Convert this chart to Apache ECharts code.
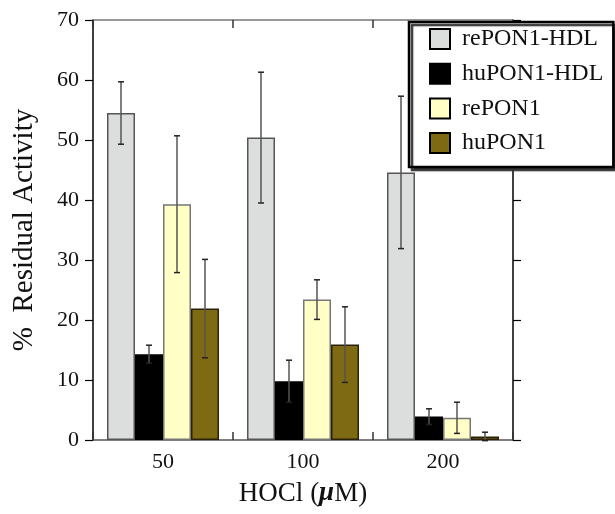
<!DOCTYPE html>
<html>
<head>
<meta charset="utf-8">
<script src="https://cdn.jsdelivr.net/npm/echarts@6/dist/echarts.min.js"></script>
<style>
  html, body { margin: 0; padding: 0; background: #fff; }
  #chart { width: 615px; height: 514px; }
</style>
</head>
<body>
<div id="chart"></div>
<script>
  // 数据
  var categories = ['50', '100', '200'];
  var seriesNames = ['rePON1-HDL', 'huPON1-HDL', 'rePON1', 'huPON1'];
  var rePON1HDL = [54.5, 50.4, 44.6];
  var rePON1HDLErr = [5.2, 10.9, 12.7];
  var huPON1HDL = [14.3, 9.8, 3.9];
  var huPON1HDLErr = [1.5, 3.5, 1.3];
  var rePON1 = [39.3, 23.4, 3.7];
  var rePON1Err = [11.4, 3.3, 2.6];
  var huPON1 = [21.9, 15.9, 0.6];
  var huPON1Err = [8.2, 6.3, 0.7];

  var fills = ['#dcdedd', '#000000', '#ffffc6', '#7f6a14'];
  var borders = ['#555555', '#000000', '#777777', '#2a2208'];
  var values = [rePON1HDL, huPON1HDL, rePON1, huPON1];
  var errors = [rePON1HDLErr, huPON1HDLErr, rePON1Err, huPON1Err];
  var offsets = [-0.3, -0.1, 0.1, 0.3];

  var font = '"Liberation Serif", "DejaVu Serif", serif';

  var series = [];
  for (var i = 0; i < 4; i++) {
    series.push({
      name: seriesNames[i],
      type: 'bar',
      data: values[i],
      barGap: '0%',
      barCategoryGap: '20%',
      itemStyle: { color: fills[i], borderColor: borders[i], borderWidth: 1.5 }
    });
  }
  // 误差线
  for (var k = 0; k < 4; k++) {
    (function (idx) {
      var data = values[idx].map(function (v, j) { return [j, v - errors[idx][j], v + errors[idx][j]]; });
      series.push({
        type: 'custom',
        z: 5,
        data: data,
        renderItem: function (params, api) {
          var band = api.size([1, 0])[0];
          var lo = api.coord([api.value(0), api.value(1)]);
          var hi = api.coord([api.value(0), api.value(2)]);
          var x = lo[0] + band * offsets[idx];
          var cap = 3;
          var capStyle = { stroke: '#222', lineWidth: 1.5 };
          return {
            type: 'group',
            children: [
              { type: 'line', shape: { x1: x, y1: lo[1], x2: x, y2: hi[1] }, style: { stroke: '#555', lineWidth: 1.5 } },
              { type: 'line', shape: { x1: x - cap, y1: lo[1], x2: x + cap, y2: lo[1] }, style: capStyle },
              { type: 'line', shape: { x1: x - cap, y1: hi[1], x2: x + cap, y2: hi[1] }, style: capStyle }
            ]
          };
        }
      });
    })(k);
  }

  var chart = echarts.init(document.getElementById('chart'));
  chart.setOption({
    animation: false,
    backgroundColor: '#fff',
    grid: { left: 93, right: 102, top: 20, bottom: 74 },
    legend: {
      data: seriesNames,
      orient: 'vertical',
      left: 409,
      top: 22,
      z: 10,
      icon: 'rect',
      padding: [5, 10, 12, 20],
      itemGap: 10.7,
      itemWidth: 20,
      itemHeight: 20,
      backgroundColor: '#fff',
      borderColor: '#000',
      borderWidth: 2.5,
      shadowColor: '#333',
      shadowBlur: 1,
      shadowOffsetX: 3,
      shadowOffsetY: 3,
      itemStyle: { borderColor: '#000', borderWidth: 2 },
      textStyle: { fontFamily: font, fontSize: 24, lineHeight: 24, color: '#111', padding: [0, 0, 0, 7] }
    },
    xAxis: [{
      type: 'category',
      data: categories,
      position: 'bottom',
      axisLine: { lineStyle: { color: '#555', width: 1.5 } },
      axisTick: { show: true, inside: true, length: 8, interval: 0, lineStyle: { color: '#333', width: 1.5 } },
      axisLabel: { fontFamily: font, fontSize: 22, color: '#111', margin: 11 },
      name: '{a|HOCl (}{b|μ}{a|M)}',
      nameLocation: 'middle',
      nameGap: 40,
      nameTextStyle: {
        rich: {
          a: { fontFamily: font, fontSize: 27, color: '#111' },
          b: { fontFamily: font, fontSize: 27, color: '#111', fontStyle: 'italic', fontWeight: 'bold' }
        }
      }
    }, {
      type: 'category',
      data: categories,
      position: 'top',
      axisLine: { onZero: false, lineStyle: { color: '#777', width: 1.5 } },
      axisTick: { show: true, inside: true, length: 8, interval: 0, lineStyle: { color: '#333', width: 1.5 } },
      axisLabel: { show: false }
    }],
    yAxis: [{
      type: 'value',
      min: 0, max: 70, interval: 10,
      position: 'left',
      splitLine: { show: false },
      axisLine: { show: true, lineStyle: { color: '#000', width: 1.5 } },
      axisTick: { show: true, length: 8, lineStyle: { color: '#000', width: 1.2 } },
      axisLabel: { fontFamily: font, fontSize: 22, color: '#111', margin: 14 },
      name: '%  Residual Activity',
      nameLocation: 'middle',
      nameGap: 54,
      nameTextStyle: { fontFamily: font, fontSize: 29, color: '#111' }
    }, {
      type: 'value',
      min: 0, max: 70, interval: 10,
      position: 'right',
      splitLine: { show: false },
      axisLine: { show: true, lineStyle: { color: '#000', width: 1.5 } },
      axisTick: { show: true, length: 8, lineStyle: { color: '#000', width: 1.2 } },
      axisLabel: { show: false }
    }],
    series: series
  });
</script>
</body>
</html>
